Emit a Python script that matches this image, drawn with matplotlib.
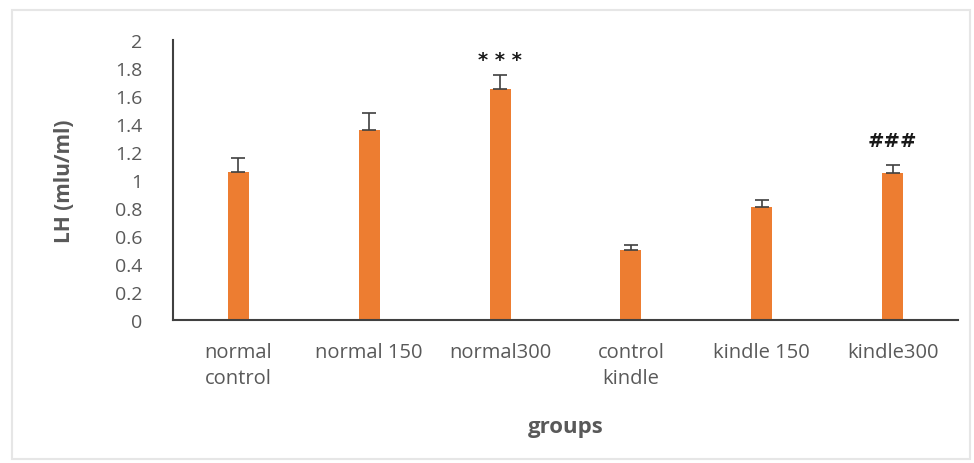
import matplotlib
matplotlib.use("Agg")
import matplotlib.pyplot as plt
from matplotlib.patches import Rectangle

# Values
groups = ["normal\ncontrol", "normal 150", "normal300", "control\nkindle", "kindle 150", "kindle300"]
lh_means = [1.06, 1.36, 1.65, 0.50, 0.81, 1.05]
lh_err = [0.10, 0.12, 0.10, 0.035, 0.045, 0.06]
marks = ["", "", "* * *", "", "", "###"]

bar_color = "#ED7D31"
text_gray = "#595959"
# vertical gap between the error cap and the centre of each significance mark
mark_gap = {"* * *": 0.11, "###": 0.175}

plt.rcParams["font.family"] = ["Open Sans", "DejaVu Sans"]

fig = plt.figure(figsize=(9.74, 4.64), dpi=100)
ax = fig.add_axes([0.1776, 0.3082, 0.806, 0.6034])

x = list(range(len(groups)))
ax.bar(x, lh_means, width=0.16, color=bar_color, zorder=2)
ax.errorbar(x, lh_means, yerr=[[0] * len(lh_err), lh_err], fmt="none",
            ecolor="#404040", elinewidth=1.2, capsize=5, capthick=1.2, zorder=3)

for xi, m, e, s in zip(x, lh_means, lh_err, marks):
    if s:
        ax.text(xi, m + e + mark_gap[s], s, ha="center", va="center", fontsize=14,
                color="#1a1a1a", family="DejaVu Sans", fontweight="bold")

ax.set_xlim(-0.5, len(groups) - 0.5)
ax.set_ylim(0, 2)
ax.set_yticks([i / 5 for i in range(11)])
ax.set_yticklabels(["0", "0.2", "0.4", "0.6", "0.8", "1", "1.2", "1.4", "1.6", "1.8", "2"])
ax.set_xticks(x)
ax.set_xticklabels(groups, linespacing=1.4)

ax.tick_params(axis="y", length=0, pad=22, labelsize=14, labelcolor=text_gray)
ax.tick_params(axis="x", length=0, pad=16, labelsize=14.5, labelcolor=text_gray)

for side in ["top", "right"]:
    ax.spines[side].set_visible(False)
ax.spines["left"].set_color("#404040")
ax.spines["bottom"].set_color("#404040")
ax.spines["left"].set_linewidth(1.5)
ax.spines["bottom"].set_linewidth(1.5)

ax.set_ylabel("LH (mlu/ml)", fontsize=15, fontweight="bold", color=text_gray, labelpad=29)
ax.set_xlabel("groups", fontsize=16, fontweight="bold", color=text_gray, labelpad=20)

# light chart-area border like the Excel export
fig.patches.append(Rectangle((12 / 974, 4 / 464), 958 / 974, 449 / 464,
                             transform=fig.transFigure, fill=False,
                             edgecolor="#e6e6e6", linewidth=1.5))

fig.savefig("out.png", dpi=100)
